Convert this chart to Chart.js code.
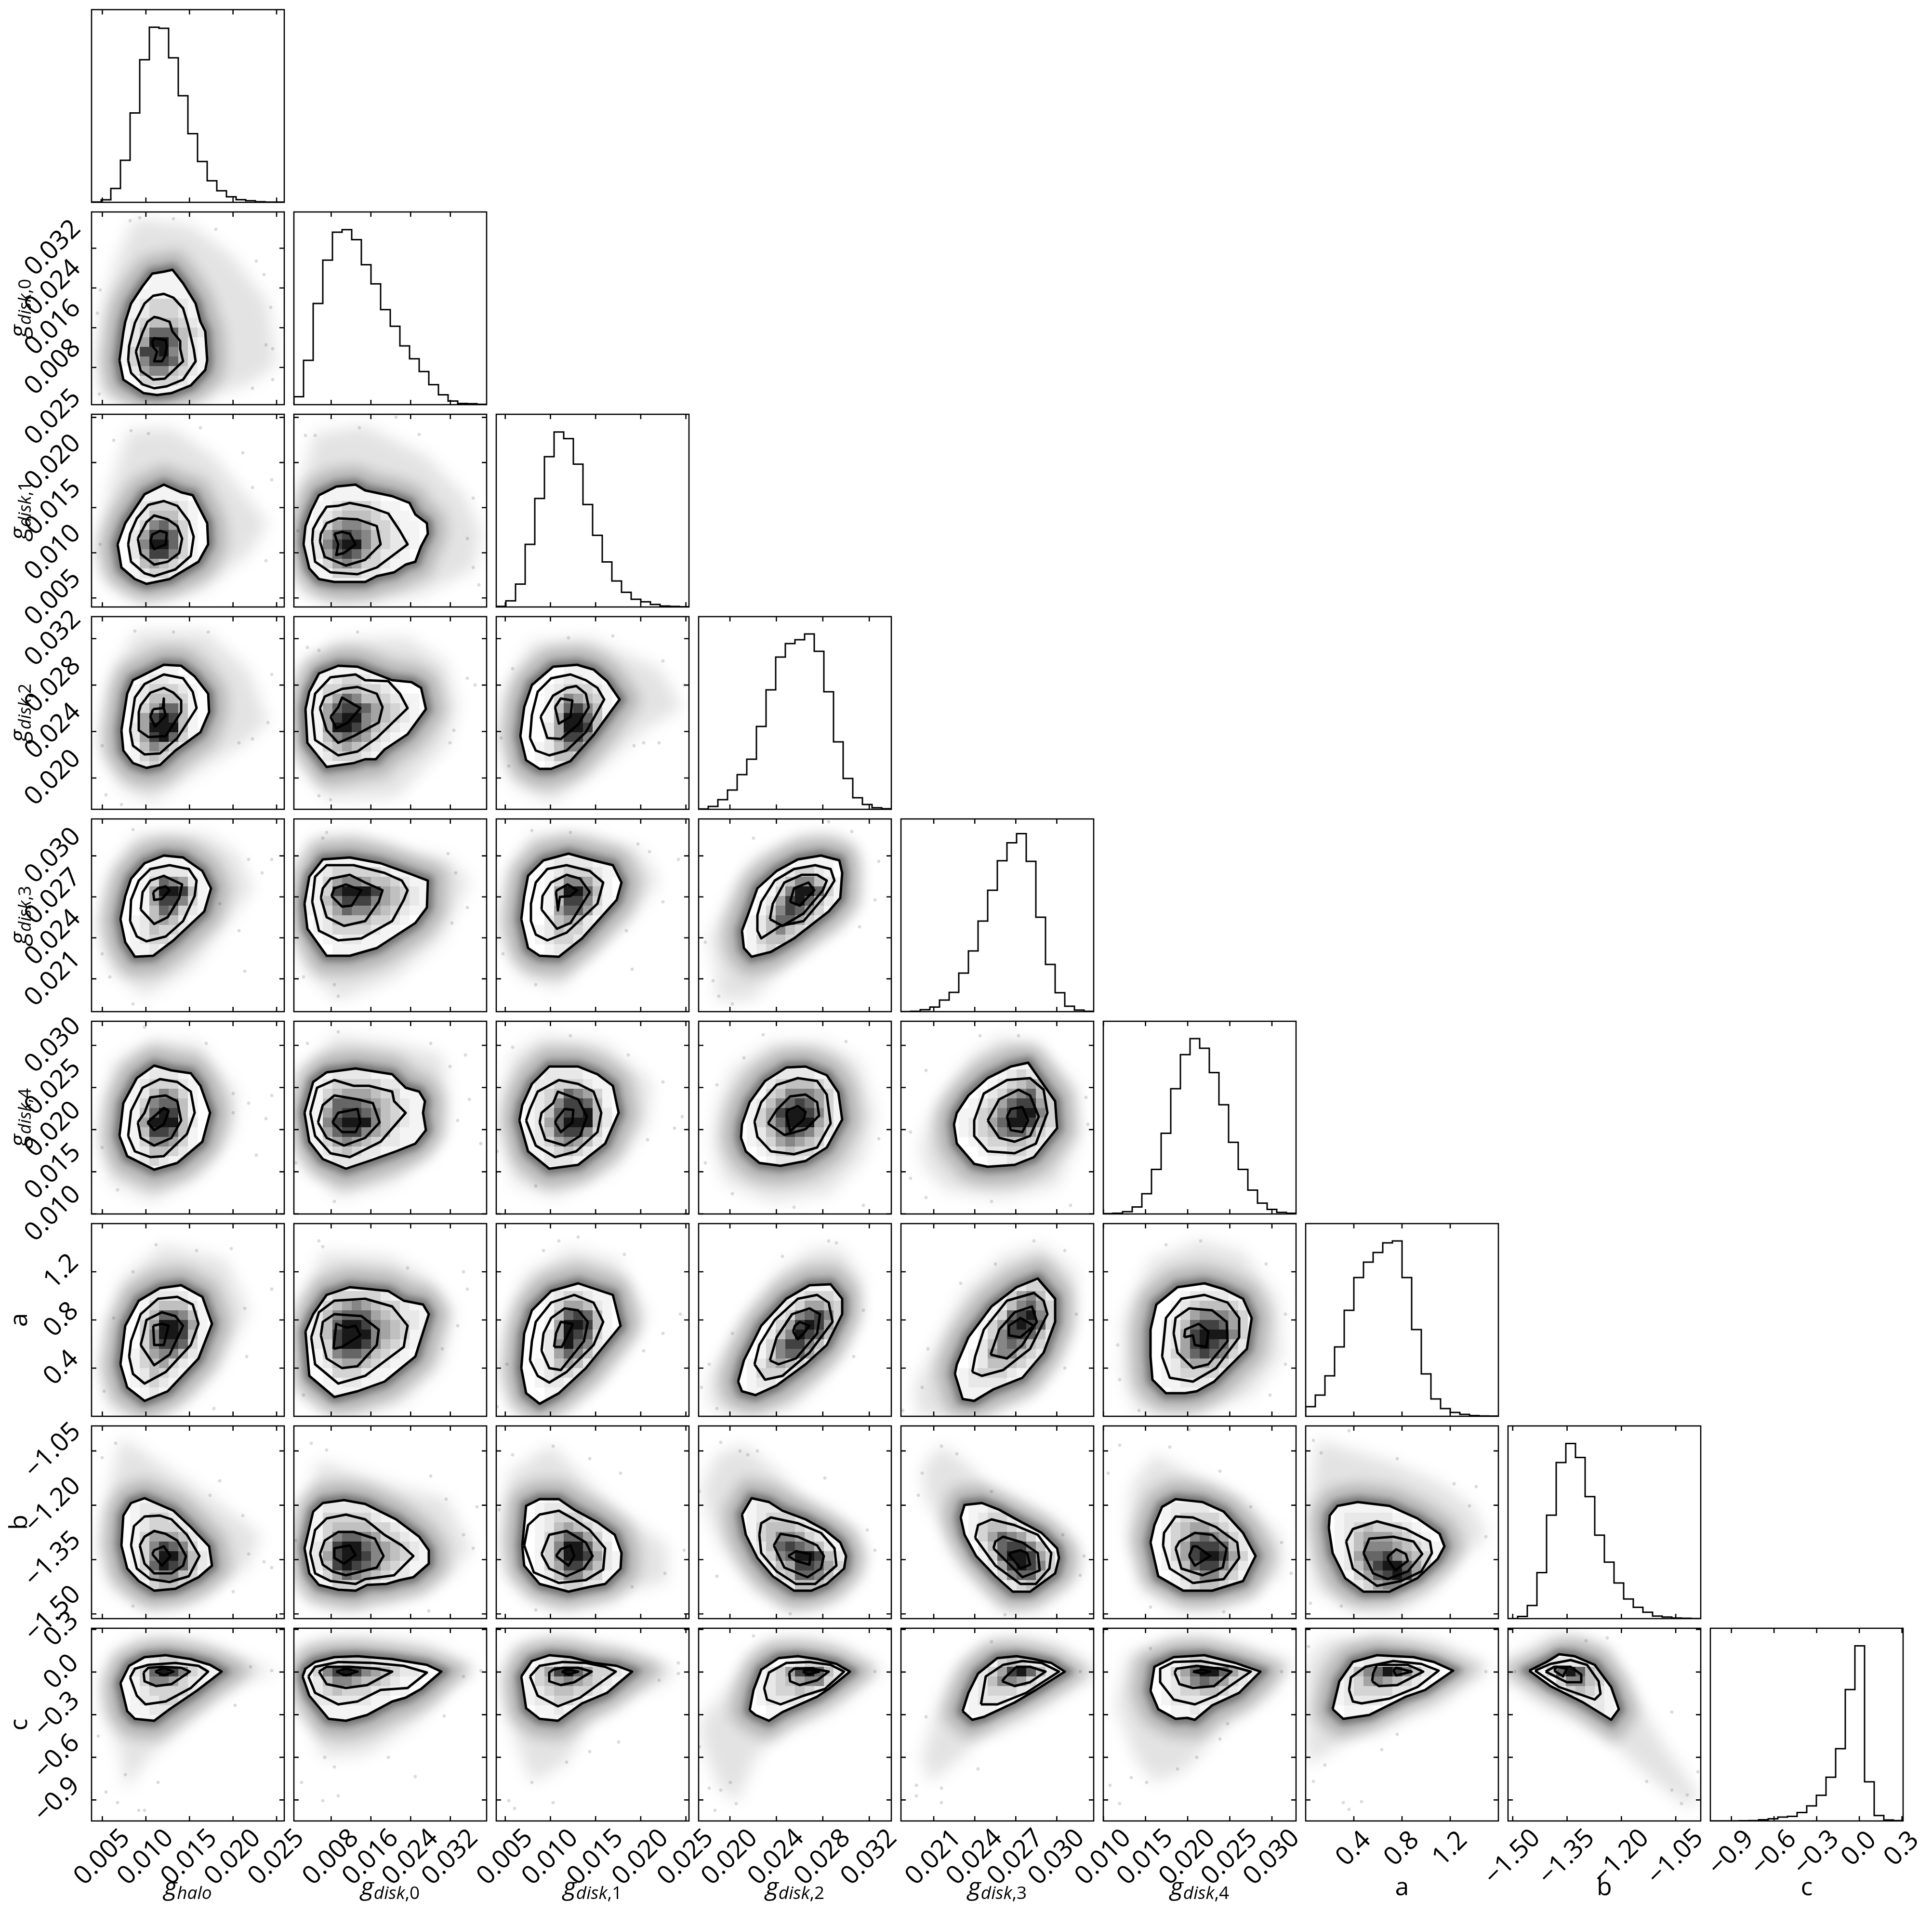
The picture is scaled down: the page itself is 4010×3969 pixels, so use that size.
<!DOCTYPE html>
<html><head><meta charset="utf-8">
<style>html,body{margin:0;padding:0;background:#fff;overflow:hidden}#root{position:relative;width:4010px;height:3969px;overflow:hidden;background:#fff}canvas{position:absolute}</style>
<script src="https://cdn.jsdelivr.net/npm/chart.js@4/dist/chart.umd.js"></script>
</head><body><div id="root"></div>
<script>
// Parameters: plotted range, ticks, labels
const labelMain=["g","g","g","g","g","g","a","b","c"];
const labelSub=["halo","disk,0","disk,1","disk,2","disk,3","disk,4","","",""];
const paramLo=[0.00376,0.0005,0.0040,0.0173,0.0186,0.00999,0,-1.513,-1.048];
const paramHi=[0.02588,0.0393,0.02534,0.0339,0.0327,0.03286,1.6,-0.981,0.308];
const decimals=[3,3,3,3,3,3,1,2,1];
const ticks0=[0.005,0.010,0.015,0.020,0.025];
const ticks1=[0.008,0.016,0.024,0.032];
const ticks2=[0.005,0.010,0.015,0.020,0.025];
const ticks3=[0.020,0.024,0.028,0.032];
const ticks4=[0.021,0.024,0.027,0.030];
const ticks5=[0.010,0.015,0.020,0.025,0.030];
const ticks6=[0.4,0.8,1.2];
const ticks7=[-1.50,-1.35,-1.20,-1.05];
const ticks8=[-0.9,-0.6,-0.3,0.0,0.3];
const tickSets=[ticks0,ticks1,ticks2,ticks3,ticks4,ticks5,ticks6,ticks7,ticks8];
// 1-D histograms: 20 bins, height as % of panel height
const hist0=[0.2,1.3,7.2,21.8,46.4,74,90.9,90.3,75,55.3,35.6,21.2,11.2,6,2.9,1.4,0.8,0.3,0.1,0.1];
const hist1=[4.1,23,52.5,75,89.5,90.8,85.6,72.6,62.7,49.3,40.7,30.5,23.8,17.2,10.4,5.1,1.9,0.6,0.5,0.2];
const hist2=[0.3,3.2,11.9,32.5,56.3,78,90.8,87.4,74.1,53.2,37.2,23.4,13.5,7.6,4,2.7,1.3,0.5,0.3,0.1];
const hist3=[0.2,1.5,5,10,18,26,43,62,79,86,88,91,82,61,35,16,6,2.5,0.8,0.3];
const hist4=[0,0.2,1,2.4,6,10,20,31.5,47,63,78.3,87.6,92.4,78,49,24.5,9.8,2.8,0.8,0.2];
const hist5=[0.2,0.4,1.2,3.6,10.5,23.1,41.9,65,82.7,91,86,73.4,56.7,37.2,23.1,12.4,5.6,2.4,0.8,0.4];
const hist6=[5,11,21,36,55,72,80,85,90,91,72,45,22,9,4,2,1,0.4,0.2,0.1];
const hist7=[0,1.1,6.8,23.9,53.7,81,90.9,83.6,63.3,43.3,29.3,18.5,10.2,5.9,3.3,1.3,0.8,0.3,0.2,0];
const hist8=[0,0,0,0.1,0.2,0.6,1.1,2,2.4,4.4,7.8,13.3,22.7,37.5,68.2,90.9,20.3,2.8,0.5,0.2];
const hists=[hist0,hist1,hist2,hist3,hist4,hist5,hist6,hist7,hist8];
// 2-D panels. Values are in tenths of a histogram bin of each parameter (0..200 across its 20 bins).
// cRC: the four density contours, outermost first, [x,y,x,y,...]; hRC: extent of the sample cloud;
const c10=[[29,46,33,26,54,12,68,10,83,12,103,20,118,36,120,46,118,76,113,86,108,105,95,126,84,140,75,138,63,136,53,123,41,105,35,86,33,75],[38,46,41,33,53,21,65,17,78,19,95,26,108,45,106,58,100,83,95,100,85,111,75,115,64,113,55,105,45,85,39,61],[46,55,51,35,64,26,76,27,95,45,92,58,92,66,84,76,81,86,70,90,65,91,58,86,53,75],[63,65,65,69,77,67,78,60,76,50,73,45,65,45,68,55,64,60]];
const h10=[7,45,10,10,37,1,112,5,162,21,192,41,183,106,145,155,103,186,45,193,28,155,12,105];
const d10=[171,149,179,135,186,101,181,62,188,58,188,26,167,17,129,182,85,193,50,194,40,191,6,95,8,11,9,119];
const g10=[3,13,"0001110000","0001111000","0011111100","0123332100","0123332100","1234443210","1247774321","1259974210","1388964210","1368874210","0256643210","0033332100","0011111100"];
const c20=[[27,65,31,41,45,29,57,24,81,29,111,47,121,65,120,87,105,116,93,119,75,127,55,117,47,105,35,87],[38,65,41,47,55,35,65,32,87,39,103,53,106,73,101,89,89,105,75,110,59,106,47,92,40,76],[48,71,51,55,65,44,79,47,91,56,94,71,89,84,79,91,65,95,57,88],[61,68,65,60,77,65,78,77,71,79,63,75]];
const h20=[5,55,19,23,55,9,115,17,163,55,183,87,127,156,83,186,39,183,19,124];
const d20=[187,132,181,48,167,124,157,160,113,186,59,180,41,183,23,173,9,65];
const g20=[3,12,"000111000","001111100","012333210","012444210","013675310","025887310","026997310","025886310","014543210","012332100","001111000"];
const c21=[[10,65,16,40,26,29,42,26,74,26,86,32,104,36,116,44,126,47,132,63,139,76,138,87,126,96,120,108,102,115,74,121,64,127,44,125,26,116,18,100,12,84],[19,68,22,47,38,36,66,34,86,41,118,65,110,79,98,97,78,104,58,108,46,105,34,104,26,92,20,81],[27,68,32,52,54,43,74,49,90,65,86,84,66,91,46,92,34,87,28,76],[42,76,46,65,44,54,52,56,64,65,58,76,50,78]];
const h21=[2,65,14,23,42,3,130,12,186,39,194,76,178,114,138,156,74,188,22,180,6,124];
const d21=[192,23,186,113,180,71,130,179,106,197,68,186,22,178,12,178,4,79,186,41];
const g21=[1,12,"0001111000000","0011111100000","0112333211000","0123444321100","1135665332110","1257876432110","1268996432210","1257875322100","1135653321100","0113332211000","0011111110000"];
const c30=[[31,82,33,61,43,48,57,43,71,46,87,61,113,80,122,101,121,120,107,138,93,149,75,150,59,142,43,134,37,120],[40,82,43,66,55,57,71,58,89,74,109,105,105,122,95,136,75,140,55,130,45,116],[49,101,49,82,59,75,77,76,93,101,93,113,85,121,75,126,61,121,51,108],[64,104,61,96,66,86,77,97,75,105,75,115,74,105]];
const h30=[9,66,31,21,63,7,115,42,155,66,183,90,163,144,119,184,47,184,23,146,15,106];
const d30=[183,90,167,73,153,69,121,184,85,184,45,185,11,66,15,15,31,5,187,140];
const g30=[3,14,"000111000","001221100","012333210","012444310","013577410","015898410","025999410","025897310","014653210","013432100","012321000"];
const c31=[[12,104,14,69,34,44,62,48,74,52,85,52,94,62,118,78,137,104,132,126,122,132,102,134,66,148,46,149,26,141,16,122],[19,101,22,72,46,56,66,60,86,74,118,105,110,120,98,133,74,134,64,140,38,137,22,120],[27,105,34,82,46,69,62,76,88,90,92,106,86,120,66,127,50,125,32,117],[38,96,44,84,56,90,69,105,50,116,46,106]];
const h31=[2,93,10,53,34,10,106,13,158,66,170,106,158,152,118,178,46,176,10,146];
const d31=[188,129,180,136,166,82,162,69,38,10,26,14,26,165,14,168,66,184];
const g31=[1,14,"0011111000000","0112332110000","0133443321000","1135764432110","1157887543210","1158996543210","1159986432110","1146765321000","1134543210000","0123332100000","0011111000000"];
const c32=[[25,76,31,51,45,42,57,42,77,50,101,77,128,114,115,133,101,145,84,150,59,148,37,129,29,106],[35,74,41,61,55,56,73,61,93,80,112,114,105,126,93,134,77,140,57,136,43,122,37,98],[46,96,53,74,67,73,85,88,96,106,93,120,83,128,73,126,59,118],[61,106,65,89,77,96,79,113,67,115]];
const h32=[3,80,17,26,57,7,105,40,153,82,193,106,169,146,97,178,37,173,9,125];
const d32=[195,129,169,69,153,69,143,66,121,180,75,178,17,146,5,74,13,45,173,154];
const g32=[3,14,"0000111000","0001221100","0012333210","0013654310","0014786410","0015997410","0025998410","0025886310","0124664210","0124431100","0012210000"];
const c40=[[30,96,35,72,45,57,64,58,85,74,117,104,124,128,115,146,95,160,75,162,55,154,41,138,35,120],[40,94,47,78,57,73,77,78,95,94,107,120,109,136,101,148,81,152,61,148,49,136,41,116],[51,106,65,91,79,98,91,118,94,132,75,141,61,136,53,124],[64,124,65,116,73,117,81,126,77,130,69,128]];
const h40=[7,88,19,44,55,16,103,44,135,84,167,128,151,164,119,184,47,184,19,144];
const d40=[187,158,177,144,163,158,159,42,153,84,133,112,43,189,11,60,19,36,43,8];
const g40=[3,16,"0000110000","0001111100","0012222110","0013765210","0015998410","0015886310","0014763210","0124542100","0124332100","0123321000","0112110000","0011000000"];
const c41=[[11,112,14,86,34,58,58,58,86,66,126,92,138,108,139,136,118,144,90,154,58,160,30,158,16,140],[19,114,26,84,46,74,70,76,102,94,114,116,118,126,112,136,94,144,62,152,34,152,22,140],[28,118,34,98,52,89,74,94,88,114,92,126,74,134,58,142,38,138,30,128],[39,120,50,109,60,110,70,126,54,132,42,128]];
const h41=[4,108,10,44,46,12,106,36,154,76,182,136,158,160,130,164,66,184,18,180];
const d41=[168,144,180,108,164,92,160,164,46,16,42,28,34,186,30,180,10,36];
const g41=[1,15,"01111111000000","01233333211000","11356654432110","01389998543211","11468886543210","11357665432110","01244443321000","01233332110000","00112211100000","00011111000000","00011100000000"];
const c42=[[26,96,33,66,45,58,65,57,89,76,125,116,130,134,121,152,97,158,75,164,49,157,33,141,29,120],[36,94,41,80,53,74,73,82,105,112,111,134,97,146,73,152,53,148,41,134,36,112],[47,106,63,86,77,92,97,124,87,138,73,142,57,134,48,120],[62,124,64,105,66,119,77,120,84,126,74,132,63,126]];
const h42=[3,84,25,36,65,24,97,56,137,92,169,136,149,168,97,184,37,184,13,144];
const d42=[189,158,159,166,147,174,173,114,141,44,135,84,77,186,37,188,7,60,41,28];
const g42=[3,16,"0000111000","0012222110","0012333211","0013665310","0015997410","0014886310","0015775210","0024542100","0124332100","0123321000","0012210000","0011000000"];
const c43=[[45,84,47,66,55,57,75,62,99,76,135,104,147,118,149,144,146,157,127,162,103,158,81,146,61,128,51,100],[61,84,65,76,85,89,109,94,131,120,141,136,137,148,121,152,99,148,79,136,65,114,61,100],[74,96,87,89,109,102,129,126,133,136,123,142,107,142,89,134,77,112],[95,114,105,110,120,126,114,134,99,128]];
const h43=[19,40,19,12,55,12,107,64,147,88,167,112,167,164,147,184,107,184,55,156,31,116,11,76];
const d43=[21,16,35,8,15,32,7,72,135,197,159,187,57,180,187,156,183,116,167,88];
const g43=[4,15,"00000011110","00001233210","00012466421","00013699731","00125897421","00136875310","01247753210","01246432100","01344321000","01232100000","00111000000"];
const c50=[[29,81,37,60,65,46,89,53,115,75,123,105,113,133,103,146,83,149,65,154,47,141,33,115],[38,81,45,65,61,59,75,60,99,83,107,105,103,127,89,137,71,140,53,131,41,107],[48,95,51,79,65,71,83,79,93,97,89,117,77,123,61,121,55,105],[58,95,65,87,75,93,80,107,75,110,67,103]];
const h50=[11,69,19,33,63,13,115,41,147,85,151,125,111,177,63,181,23,157,15,109];
const d50=[187,123,181,99,147,125,119,177,55,194,11,69,27,25,147,105,163,115,171,61];
const g50=[3,15,"000111000","001222100","012333210","012465310","013677410","014798410","015999420","014887410","013665310","012443210","012321100","001110000"];
const c51=[[11,105,16,75,30,57,54,47,78,55,106,65,126,73,137,87,134,105,136,117,130,127,116,131,102,145,64,151,34,147,20,137],[17,105,22,81,38,63,58,59,90,75,116,105,104,117,102,127,78,133,62,133,42,139,24,131],[25,95,34,79,52,71,74,79,89,95,82,115,66,119,42,123,30,113],[40,95,50,85,64,85,69,95,66,109,46,105]];
const h51=[4,105,12,53,46,17,106,33,146,69,162,105,154,165,106,177,42,185,14,149];
const d51=[194,73,182,119,170,97,162,153,142,177,46,189,14,177,2,53,42,13,178,165];
const g51=[1,15,"0001111000000","0112222110000","1123333322100","1134555433110","1147776543211","1157887643211","1168999643211","1157886542111","1135654322110","0123432211000","0112222100000","0001111000000"];
const c52=[[24,97,33,65,55,47,85,51,113,73,127,105,121,133,105,145,85,153,55,153,37,135,27,113],[31,97,41,71,61,59,83,65,105,85,109,105,101,127,85,135,65,139,43,127,35,109],[45,95,51,77,71,71,87,81,94,101,85,119,64,127,59,115,47,105],[61,95,67,85,79,95,80,108,71,109,63,99]];
const h52=[5,93,17,33,61,17,125,49,157,93,161,137,113,177,49,185,17,165,7,125];
const d52=[193,101,173,137,157,77,137,165,77,185,17,173,41,29,1,65,185,89];
const g52=[2,15,"00011111000","00122221100","01223332110","01234765310","01236887410","01247889420","01257999420","01247886310","01235654210","01123432100","00122210000","00011100000"];
const c53=[[44,79,49,65,63,53,85,50,111,55,133,69,149,98,145,126,133,144,111,153,91,152,69,138,53,116,45,93],[58,96,61,80,75,65,99,62,123,69,137,94,133,124,123,138,103,141,81,134,65,116],[72,94,89,82,111,88,125,102,123,116,111,124,95,122,81,108],[91,104,95,86,109,98,111,106,103,112,93,108]];
const h53=[15,70,27,33,75,13,135,21,171,57,183,102,167,158,131,178,75,178,35,150,19,110];
const d53=[171,9,7,53,35,21,99,7,153,179,47,162,19,134,187,78,67,186];
const g53=[4,15,"00000111100","00012222110","00123444320","00134666531","01246787531","01358998631","01357999531","01246876421","01235654310","00123433210","00012221000","00001110000"];
const c54=[[55,93,58,73,76,52,90,49,118,51,138,59,162,89,160,117,146,137,132,157,114,153,90,141,70,123,58,105],[76,81,90,65,118,63,140,73,152,105,148,129,134,141,110,139,86,125,76,97],[90,97,102,79,118,75,134,81,143,101,134,123,122,129,102,119],[110,101,114,87,126,85,132,97,126,111,114,109]];
const h54=[22,53,46,25,106,17,162,29,186,81,182,133,146,169,106,185,74,165,34,109,22,77];
const d54=[10,37,26,17,94,13,176,9,194,93,122,185,82,185,26,149,10,85,192,121];
const g54=[5,15,"000000011100","000001232100","000012345421","000123567431","001235788531","011346899631","012357998531","012346775321","001233443210","000122332100","000011221000","000001110000"];
const c60=[[30,54,37,30,55,16,79,26,111,60,125,96,115,124,93,136,71,133,49,120,35,94],[39,62,43,44,55,34,77,46,103,74,111,96,105,116,89,124,69,122,51,106,41,78],[51,74,65,53,81,64,95,94,87,104,73,108,57,100,54,86],[64,94,65,74,75,74,80,94,73,96]];
const h60=[9,46,19,6,67,0,107,22,135,54,163,110,139,162,75,178,31,142,19,90];
const d60=[187,132,159,112,145,174,109,172,67,178,43,150,23,102,13,26,127,8,161,62];
const g60=[3,13,"0001110000","0012222100","0013444210","0024776410","0035998510","0036998410","0036887310","0135664210","0134532100","0124321000","0123210000","0012100000","0011000000"];
const c61=[[12,88,16,42,42,20,66,26,94,36,126,62,140,106,134,116,114,120,98,130,58,134,34,126,20,106],[18,82,22,54,46,34,74,42,114,72,116,84,118,94,102,114,74,122,42,120,26,108],[28,84,34,60,50,50,66,52,86,74,88,90,70,104,42,106,30,98],[41,70,50,72,69,84,64,94,55,92,44,96]];
const h61=[4,86,10,22,58,0,114,14,154,54,166,110,138,146,98,166,30,170,10,122];
const d61=[180,132,170,94,154,70,118,154,30,176,26,182,10,22,176,150];
const g61=[1,13,"00111111100000","01233333211000","11345654332110","12467775432211","12479986543211","12489996543110","12389986432110","01367764321000","01245543211000","00133321100000","00112211000000","00011110000000"];
const c62=[[26,50,31,24,45,13,65,24,93,50,129,94,121,126,85,138,57,130,37,110,29,86],[35,58,43,42,55,35,73,46,101,74,111,98,101,118,81,126,57,118,41,98,37,78],[47,68,55,50,67,48,91,78,95,98,85,110,71,112,57,102,49,86],[60,72,68,72,79,94,79,96,67,98,62,86]];
const h62=[5,42,21,4,57,0,105,30,137,70,157,106,125,162,77,174,29,146,13,94];
const d62=[191,106,173,86,153,68,133,168,85,186,49,172,11,54,1,10,65,182];
const g62=[3,13,"0001111000","0012332110","0013554210","0014787410","0015998410","0025987310","0026976210","0025764210","0124542100","0123321000","0122110000","0011100000","0011000000"];
const c63=[[41,36,45,26,59,22,81,32,111,54,133,74,149,106,149,122,137,137,115,136,91,122,65,94,47,58],[58,54,69,38,87,42,115,66,139,98,135,118,123,126,103,122,79,100,63,74],[74,58,83,54,101,60,123,86,126,106,115,112,97,106,81,82],[98,88,103,80,109,86,115,94,105,98,100,94]];
const h63=[11,10,47,0,99,10,135,46,163,94,171,142,147,174,119,174,83,150,43,94,11,42];
const d63=[19,8,3,30,35,86,11,54,135,182,87,166,171,110,161,62,143,180];
const g63=[4,13,"000000011110","000001233321","000012355431","000123678631","000135898531","000246987421","001368864210","001367753210","012454321000","013332110000","012211000000","011100000000"];
const c64=[[56,44,64,18,76,16,96,28,126,40,148,66,160,98,160,122,142,143,120,134,94,114,70,82,58,54],[74,46,84,42,106,48,134,70,152,106,148,120,138,128,110,120,86,90,77,62],[93,64,110,60,126,74,141,98,136,114,118,108,102,90],[112,94,112,84,124,82,138,94,124,102]];
const h64=[18,0,66,0,114,10,146,30,178,86,182,150,146,178,106,166,66,130,34,70,14,30];
const d64=[22,30,28,70,2,6,170,172,138,182,98,158,182,106,170,50,62,138];
const g64=[5,14,"000000001110","000000123321","000001356421","000012467531","000013789631","000135898731","000136887421","000246764310","001256643210","001244432100","012333211000","012222100000","011110000000","001100000000"];
const c65=[[49,62,51,38,65,24,85,24,97,26,115,36,149,70,154,102,145,122,125,132,105,138,77,134,55,116,49,90],[61,62,69,40,93,36,117,50,141,82,141,102,129,118,105,126,81,122,65,102],[73,86,77,66,93,50,109,54,129,78,128,98,113,110,89,112,75,102],[84,82,93,84,95,74,107,72,109,88,99,96,85,90]];
const h65=[21,42,33,6,89,0,153,22,185,62,181,122,145,170,101,182,49,162,21,102];
const d65=[15,74,17,38,173,22,189,54,169,158,101,182,65,178,37,6,189,106];
const g65=[4,13,"000000111000","000012222110","000123444321","000135666531","001247887531","001258999631","001258987421","001357876321","001245543210","001233332100","001122211000","000111100000"];
const c70=[[31,76,37,52,49,39,65,29,87,31,111,43,125,55,122,75,103,95,85,112,69,119,55,125,41,120,33,107],[41,76,47,52,61,41,81,38,101,44,112,65,99,87,83,103,71,107,55,106,44,96],[50,76,55,57,65,47,83,47,95,55,98,65,89,81,77,88,65,91,55,85],[63,67,73,55,82,65,75,75,65,71]];
const h70=[9,76,19,33,55,11,111,20,163,55,175,87,127,124,83,153,31,188,19,137];
const d70=[179,59,187,53,163,67,157,107,133,143,123,128,25,182,11,167,43,13,147,28];
const g70=[3,12,"0011100000","0122210000","0123321000","0123332100","0135554210","0136876310","0136997421","0137987421","0125664310","0013443210","0001111100"];
const c71=[[11,73,16,47,26,35,46,30,64,29,76,35,96,36,110,40,124,43,140,57,140,71,130,85,106,103,74,119,52,123,30,120,20,111],[17,68,22,47,38,39,64,36,74,41,104,45,124,65,112,76,94,87,74,103,54,108,34,104,22,92],[27,67,30,56,40,49,54,45,86,53,93,65,84,83,62,90,46,90,32,81],[42,73,42,63,52,57,64,66,58,76]];
const h71=[4,65,16,20,62,11,138,28,162,44,184,73,158,124,110,137,26,164,12,119];
const d71=[176,87,186,73,158,124,142,148,34,175,18,182,140,8,2,81,190,116];
const g71=[1,12,"00111110000000","01222221000000","01333332100000","11344443321000","11367765332110","12489976543211","12589986543211","12489876432111","11357654322110","01133332111000","00111111000000"];
const c72=[[27,76,29,55,45,36,75,28,97,33,113,36,129,52,130,68,123,87,105,100,81,113,65,124,45,124,31,117],[29,76,39,48,65,37,93,40,111,51,113,73,97,92,81,103,65,112,45,108,33,97],[47,67,55,52,73,44,91,52,100,65,93,79,73,91,55,87],[62,65,75,55,81,65,77,76,67,72]];
const h72=[5,81,17,39,61,12,121,25,177,39,177,76,129,111,97,140,57,180,13,151];
const d72=[195,71,175,47,141,33,59,179,17,170,41,9,3,113,129,151,97,166];
const g72=[3,12,"0011110000","0122221000","0123332100","0124543210","0135775310","0136997420","0136998521","0135886421","0124664310","0012332210","0001111100"];
const c73=[[45,108,49,87,61,63,77,44,99,29,117,29,133,36,151,52,153,65,147,79,131,92,111,103,87,112,73,121,55,125],[63,87,65,68,81,49,101,36,121,36,143,55,141,73,127,89,103,99,75,105,65,99],[78,76,89,53,113,43,127,52,130,65,123,76,103,85,85,88],[93,65,101,60,115,56,116,67,101,70]];
const h73=[11,105,23,76,55,33,95,7,147,23,175,60,163,92,119,116,87,148,47,180,19,170,3,135];
const d73=[175,92,183,71,43,174,23,183,95,5,19,44,1,132,131,146,61,174,51,170];
const g73=[4,12,"011110000000","012221000000","012333210000","013444321000","013466532100","012478764210","012367998421","001245887531","000134776421","000012444310","000001221100"];
const c74=[[62,105,66,87,78,65,98,44,116,28,134,28,160,47,164,63,162,73,146,89,118,104,102,113,84,120,66,118],[77,84,98,55,124,36,140,36,154,52,156,68,142,87,118,97,94,103,80,97],[96,73,114,55,126,43,144,50,142,68,126,79,106,85,98,80],[112,67,124,52,134,56,131,68,124,71,116,69]];
const h74=[26,124,58,71,90,28,110,8,146,20,186,47,186,71,146,105,98,129,74,156,42,180,22,156];
const d74=[42,179,22,151,18,128,108,4,190,65,186,45,168,87,58,171,94,132];
const g74=[6,11,"01122100000","01233210000","01344321000","01357653100","00247886410","00137998531","00125898631","00013677431","00001234321","00000112211"];
const c75=[[49,79,57,44,83,29,113,29,145,39,158,65,145,89,125,111,103,121,75,124,61,116,53,97],[62,76,69,52,93,37,125,41,141,63,139,79,117,95,93,105,75,106,63,89],[75,73,81,52,103,45,124,53,128,73,113,87,95,89,79,80],[89,65,95,55,111,65,97,75,93,75]];
const h75=[25,84,41,39,93,12,149,23,185,47,185,84,149,121,97,148,53,170,29,137];
const d75=[17,180,49,12,185,79,195,47,125,7,69,178,5,151,121,153,153,116,89,196];
const g75=[4,12,"000111100000","001222210000","001233332100","001345543210","001346765321","001358887421","001358998531","001247886421","000134664310","000123443210","000011222100"];
const c76=[[24,94,28,68,41,42,60,28,87,28,116,42,137,62,144,75,139,88,116,104,87,117,54,121,33,117,25,107],[42,80,49,52,74,34,99,39,120,49,131,68,129,80,104,93,74,101,49,93],[60,68,70,47,85,41,106,49,121,67,112,80,91,85,66,83],[85,62,93,50,106,60,104,67,94,72,86,65]];
const h76=[1,107,8,32,41,13,91,23,145,49,187,85,175,114,141,140,87,163,12,185];
const d76=[45,195,8,185,187,85,177,137,154,140,37,13,5,16,170,117,95,166,16,172];
const g76=[2,11,"0111111000000","0122222110000","0123433321000","0124555432100","0124666543210","0125778654311","0124689975311","0013578985210","0012356643100","0001122100000"];
const c80=[[30,143,37,114,45,106,65,104,81,116,109,135,135,155,123,162,103,168,77,172,55,170,39,161],[40,149,47,130,56,121,77,124,103,138,121,155,111,161,87,164,59,162,45,158],[54,154,55,145,67,140,83,142,102,155,93,159,73,160,59,159],[66,155,75,151,85,155,75,159]];
const h80=[9,120,31,69,35,32,59,66,91,93,131,130,163,146,191,156,147,173,75,184,23,173];
const d80=[187,156,165,160,55,11,49,11,27,19,15,30,35,48,69,40,7,88,149,120];
const g80=[3,16,"00123322100","02379863210","01366532100","01233332100","01223321000","01122210000","00111100000"];
const c81=[[9,150,16,130,36,106,54,104,76,110,102,124,116,128,132,137,153,155,138,162,102,168,66,171,42,170,22,165,12,158],[15,150,22,133,46,121,66,124,90,136,118,138,138,154,114,161,82,164,46,165,22,160],[26,155,34,142,54,138,76,141,102,155,86,158,58,160,34,160],[44,155,54,151,66,155,54,158]];
const h81=[4,146,14,109,30,66,74,69,118,96,146,120,166,144,190,156,146,168,66,181,10,181];
const d81=[194,156,176,150,30,21,46,26,8,40,42,56,98,66,126,46,32,66,156,109];
const g81=[0,16,"0112233322211000","0136898654322100","0124665443211000","0123433322110000","0122222211000000","0011111110000000","0001111000000000"];
const c82=[[26,150,31,117,45,106,64,104,89,122,115,133,141,155,125,161,101,164,77,170,55,172,37,166],[35,150,43,130,64,119,87,128,124,155,113,160,93,164,69,165,45,161],[55,154,55,145,67,141,81,144,99,155,85,159,69,159,59,157],[68,155,75,152,85,155,75,157]];
const h82=[7,133,17,93,37,40,73,61,97,104,137,130,169,141,189,156,137,173,77,184,17,181];
const d82=[189,164,169,146,59,19,19,13,13,21,37,40,73,61,97,72,127,82,189,153];
const g82=[2,16,"0012233221000","0135897533210","0134565432100","0123443321000","0122332100000","0011211000000","0001110000000"];
const c83=[[53,115,59,110,73,104,87,113,123,129,135,137,157,155,143,163,123,168,103,171,83,169,65,157,57,136],[68,138,71,126,85,121,109,130,131,137,151,155,137,162,115,165,91,164,73,154],[94,154,95,145,105,141,123,146,135,155,119,158,99,158],[108,155,114,152,125,155,114,157]];
const h83=[3,85,19,40,39,18,59,66,87,96,131,122,163,141,183,155,135,176,67,184,27,133,3,106];
const d83=[23,32,39,18,17,11,33,40,183,155,57,192,1,77,11,34];
const g83=[5,16,"00001233210","01235897421","01234566321","01233432100","01222210000","00111100000","00110000000"];
const c84=[[64,114,74,105,86,108,118,123,140,136,170,155,156,164,138,168,120,171,100,169,80,153,70,133],[83,121,100,121,130,133,164,155,146,164,126,166,106,162,88,150],[105,145,118,140,134,144,150,155,134,160,120,160,108,149],[]];
const h84=[30,40,66,69,98,106,142,125,178,146,186,155,138,178,90,184,58,160,38,120,22,66];
const d84=[16,26,42,19,80,54,26,108,16,37,94,186,186,155,42,34];
const g84=[6,16,"00013432210","00235897421","01246653210","01233322100","01222100000","01110000000","00100000000"];
const c85=[[49,135,57,116,75,106,87,107,95,105,113,120,141,133,163,155,137,164,105,172,73,170,53,160],[59,144,73,126,95,121,117,130,153,155,135,160,101,166,73,165,59,158],[74,154,79,142,93,138,115,140,133,155,121,158,97,161,76,158],[93,155,103,153,111,155,103,157]];
const h85=[13,120,33,66,53,40,85,53,125,98,177,133,185,155,149,173,89,186,25,173];
const d85=[7,37,29,45,45,40,17,18,77,54,97,66,121,85,185,155,129,101,49,179];
const g85=[4,16,"001123322110","001357997532","001246765321","001233443210","001222221000","000112110000","000111000000"];
const c86=[[28,116,39,106,66,110,104,129,124,136,153,156,133,165,112,170,74,172,49,165,35,145],[45,136,49,124,58,122,87,127,116,139,138,156,120,163,91,166,62,160,47,149],[69,145,76,140,95,141,122,155,106,162,74,162,70,153],[91,156,94,151,110,155,94,159]];
const h86=[1,165,1,58,12,64,53,90,95,116,137,139,170,153,137,168,79,188,20,188];
const d86=[39,19,45,12,58,20,8,41,20,58,187,155,79,74,95,90,3,181];
const g86=[2,16,"0011222211000","0124679864210","0123565432100","0123333221000","0122221000000","0011100000000","0011000000000"];
const c87=[[22,156,44,140,78,123,107,105,115,116,107,139,90,162,69,171,53,173,40,165],[28,156,53,139,90,126,96,132,94,145,82,162,65,167,44,163],[39,155,61,144,76,144,76,152,65,160,48,160],[48,156,57,150,61,158,50,160]];
const h87=[2,155,23,145,53,129,99,90,144,48,186,15,199,25,161,80,132,129,103,181,69,191,28,168];
const d87=[180,18,170,32,197,51,186,27,144,41,7,155,81,187,103,190,170,113];
const g87=[2,16,"0122222100","0137974310","0013664310","0001343210","0000122210","0000011210","0000001110"];
const panels=[[1,0,c10,h10,d10,g10],[2,0,c20,h20,d20,g20],[2,1,c21,h21,d21,g21],[3,0,c30,h30,d30,g30],[3,1,c31,h31,d31,g31],[3,2,c32,h32,d32,g32],[4,0,c40,h40,d40,g40],[4,1,c41,h41,d41,g41],[4,2,c42,h42,d42,g42],[4,3,c43,h43,d43,g43],[5,0,c50,h50,d50,g50],[5,1,c51,h51,d51,g51],[5,2,c52,h52,d52,g52],[5,3,c53,h53,d53,g53],[5,4,c54,h54,d54,g54],[6,0,c60,h60,d60,g60],[6,1,c61,h61,d61,g61],[6,2,c62,h62,d62,g62],[6,3,c63,h63,d63,g63],[6,4,c64,h64,d64,g64],[6,5,c65,h65,d65,g65],[7,0,c70,h70,d70,g70],[7,1,c71,h71,d71,g71],[7,2,c72,h72,d72,g72],[7,3,c73,h73,d73,g73],[7,4,c74,h74,d74,g74],[7,5,c75,h75,d75,g75],[7,6,c76,h76,d76,g76],[8,0,c80,h80,d80,g80],[8,1,c81,h81,d81,g81],[8,2,c82,h82,d82,g82],[8,3,c83,h83,d83,g83],[8,4,c84,h84,d84,g84],[8,5,c85,h85,d85,g85],[8,6,c86,h86,d86,g86],[8,7,c87,h87,d87,g87]];

// ---- rendering ----
const greys=[255,244,232,212,192,164,134,102,66,24];
const FONT='"Open Sans"', TICKPX=54, MAINPX=52, SUBPX=37;
const binVal=(k,t)=>paramLo[k]+t/200*(paramHi[k]-paramLo[k]);
function toPts(flat,xk,yk,close){const o=[];for(let i=0;i+1<flat.length;i+=2)o.push({x:binVal(xk,flat[i]),y:binVal(yk,flat[i+1])});if(close&&o.length)o.push(o[0]);return o;}
function tracePath(chart,data){const {x,y}=chart.scales,ctx=chart.ctx;ctx.beginPath();data.forEach((p,i)=>{const a=x.getPixelForValue(p.x),b=y.getPixelForValue(p.y);i?ctx.lineTo(a,b):ctx.moveTo(a,b);});ctx.closePath();}
const layers={
 id:'layers',
 beforeDatasetDraw(chart,args){
  const ds=chart.data.datasets[args.index],ctx=chart.ctx,a=chart.chartArea;
  if(ds.label==='haze'){
   ctx.save();ctx.beginPath();ctx.rect(a.left,a.top,a.width,a.height);ctx.clip();
   ctx.filter='blur(16px)';tracePath(chart,ds.data);ctx.fillStyle='rgba(0,0,0,0.11)';ctx.fill();
   ctx.filter='blur(16px)';tracePath(chart,ds.outer);ctx.lineWidth=70;ctx.strokeStyle='rgba(0,0,0,0.24)';ctx.stroke();
   ctx.filter='blur(7px)';tracePath(chart,ds.outer);ctx.lineWidth=22;ctx.strokeStyle='rgba(0,0,0,0.34)';ctx.stroke();
   ctx.restore();
  }
  if(ds.label==='outer'){
   ctx.save();tracePath(chart,ds.data);ctx.fillStyle='#fff';ctx.fill();ctx.clip();
   const g=ds.grid,xk=ds.xk,yk=ds.yk,{x,y}=chart.scales;
   for(let r=2;r<g.length;r++){const row=g[r],rowIdx=g[1]-(r-2);
    for(let c=0;c<row.length;c++){const d=+row[c];if(!d)continue;
     const col=g[0]+c,v=greys[d];
     const x0=x.getPixelForValue(binVal(xk,col*10)),x1=x.getPixelForValue(binVal(xk,(col+1)*10));
     const y1=y.getPixelForValue(binVal(yk,rowIdx*10)),y0=y.getPixelForValue(binVal(yk,(rowIdx+1)*10));
     ctx.fillStyle=`rgb(${v},${v},${v})`;ctx.fillRect(x0,y0,x1-x0+0.5,y1-y0+0.5);
    }}
   ctx.restore();
  }
 },
 afterDatasetsDraw(chart){
  const ctx=chart.ctx,a=chart.chartArea,o=chart.options.plugins.layers,{x,y}=chart.scales;
  ctx.save();ctx.strokeStyle='#000';ctx.lineWidth=2.6;ctx.strokeRect(a.left,a.top,a.width,a.height);
  ctx.beginPath();
  x.ticks.forEach(t=>{const p=x.getPixelForValue(t.value);ctx.moveTo(p,a.bottom);ctx.lineTo(p,a.bottom-10);ctx.moveTo(p,a.top);ctx.lineTo(p,a.top+10);});
  if(!o.diag)y.ticks.forEach(t=>{const p=y.getPixelForValue(t.value);ctx.moveTo(a.left,p);ctx.lineTo(a.left+10,p);ctx.moveTo(a.right,p);ctx.lineTo(a.right-10,p);});
  ctx.stroke();
  ctx.fillStyle='#000';ctx.textBaseline='middle';ctx.textAlign='center';ctx.font=`${TICKPX}px ${FONT}`;
  const ext=s=>(ctx.measureText(s).width+TICKPX*0.714)*Math.SQRT1_2/2*0.8;
  const tickLab=(v,k)=>v.toFixed(decimals[k]).replace('-','\u2212');
  if(o.showX)x.ticks.forEach(t=>{const s=tickLab(t.value,o.xk),e=ext(s);ctx.save();ctx.translate(x.getPixelForValue(t.value),a.bottom+26+e);ctx.rotate(-Math.PI/4);ctx.fillText(s,0,0);ctx.restore();});
  if(o.showY)y.ticks.forEach(t=>{const s=tickLab(t.value,o.yk),e=ext(s);ctx.save();ctx.translate(a.left-30-e,y.getPixelForValue(t.value));ctx.rotate(-Math.PI/4);ctx.fillText(s,0,0);ctx.restore();});
  if(o.showX)axisLabel(ctx,o.xk,(a.left+a.right)/2,a.bottom+154,0);
  if(o.showY)axisLabel(ctx,o.yk,56,(a.top+a.bottom)/2,-Math.PI/2);
  ctx.restore();
 }
};
function axisLabel(ctx,k,cx,cy,rot){
 const main=labelMain[k],sub=labelSub[k];
 ctx.save();ctx.translate(cx,cy);ctx.rotate(rot);ctx.textBaseline='alphabetic';ctx.textAlign='left';
 if(!sub){ctx.font=`${MAINPX}px ${FONT}`;const w=ctx.measureText(main).width;ctx.fillText(main,-w/2,0);ctx.restore();return;}
 const parts=sub.split(',');
 const runs=[{s:main,f:`italic ${MAINPX}px ${FONT}`,dy:0},{s:parts[0],f:`italic ${SUBPX}px ${FONT}`,dy:8}];
 if(parts[1]!==undefined)runs.push({s:',',f:`${SUBPX}px ${FONT}`,dy:8},{s:parts[1],f:`${SUBPX}px ${FONT}`,dy:8});
 let w=0;runs.forEach(r=>{ctx.font=r.f;r.w=ctx.measureText(r.s).width;w+=r.w;});
 let p=-w/2;runs.forEach(r=>{ctx.font=r.f;ctx.fillText(r.s,p,r.dy);p+=r.w;});
 ctx.restore();
}
Chart.register(layers);
function makeScale(axis,k,diag){
 return {type:'linear',display:false,min:diag?0:paramLo[k],max:diag?100:paramHi[k],offset:false,
  afterBuildTicks:s=>{s.ticks=diag?[]:tickSets[k].map(v=>({value:v}));}};
}
function makePanel(r,c,datasets,diag){
 const showX=r===8,showY=c===0&&r>0,M=(showX||showY)?190:4;
 const px=190+420*c,py=20+420*r,S=400+2*M;
 const cv=document.createElement('canvas');cv.width=S;cv.height=S;cv.style.left=(px-M)+'px';cv.style.top=(py-M)+'px';cv.style.width=S+'px';cv.style.height=S+'px';
 document.getElementById('root').appendChild(cv);
 new Chart(cv,{type:'scatter',data:{datasets},options:{responsive:false,animation:false,devicePixelRatio:1,events:[],
  layout:{padding:M},
  scales:{x:makeScale('x',c,false),y:makeScale('y',r,diag)},
  plugins:{legend:{display:false},tooltip:{enabled:false},layers:{diag,showX,showY,xk:c,yk:r}}}});
}
panels.forEach(([r,c,cs,h,d,g])=>{
 const curve=(flat,label)=>({label,data:toPts(flat,c,r,true),showLine:true,borderColor:'#000',borderWidth:5,pointRadius:0,tension:0,borderJoinStyle:'round',fill:false});
 const outer=curve(cs[0],'outer');outer.grid=g;outer.xk=c;outer.yk=r;
 const sets=[curve(cs[3],'c4'),curve(cs[2],'c3'),curve(cs[1],'c2'),outer,
  {label:'fringe',data:toPts(d,c,r,false),pointRadius:3.4,borderWidth:0,backgroundColor:'rgba(0,0,0,0.14)'},
  {label:'haze',data:toPts(h,c,r,true),outer:toPts(cs[0],c,r,true),pointRadius:0,borderWidth:0,showLine:false}];
 makePanel(r,c,sets,false);
});
hists.forEach((h,k)=>{
 const pts=[{x:binVal(k,0),y:0}];
 h.forEach((v,i)=>{pts.push({x:binVal(k,i*10),y:v},{x:binVal(k,(i+1)*10),y:v});});
 pts.push({x:binVal(k,200),y:0});
 makePanel(k,k,[{label:'histogram',data:pts,showLine:true,borderColor:'#000',borderWidth:3,pointRadius:0,tension:0,borderJoinStyle:'miter',fill:false}],true);
});
</script></body></html>
